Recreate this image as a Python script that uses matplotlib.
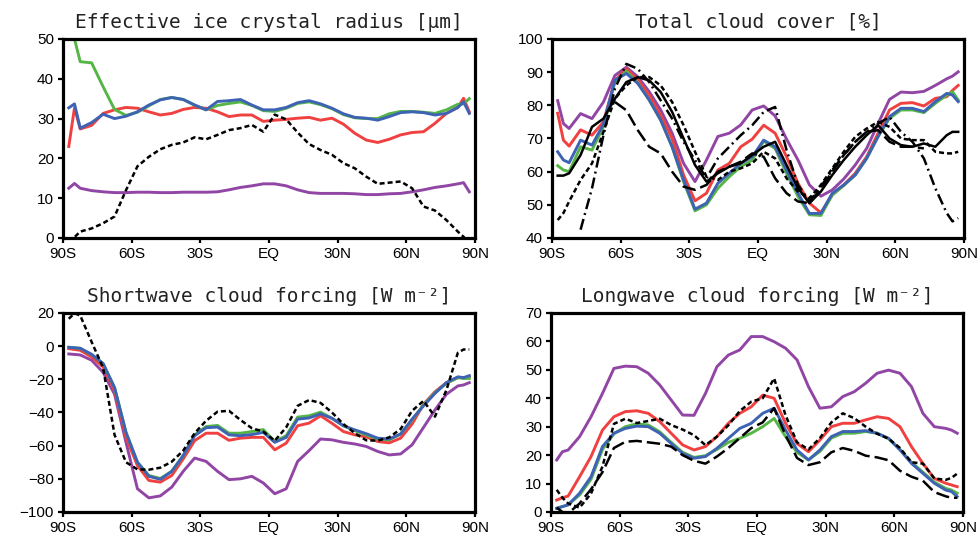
import numpy as np
import matplotlib
matplotlib.use("Agg")
import matplotlib.pyplot as plt

nan = np.nan

# latitudes of the zonal means
lat = [-87.5, -85, -82.5, -77.5, -72.5, -67.5, -62.5, -57.5, -52.5, -47.5, -42.5, -37.5,
       -32.5, -27.5, -22.5, -17.5, -12.5, -7.5, -2.5, 2.5, 7.5, 12.5, 17.5, 22.5, 27.5,
       32.5, 37.5, 42.5, 47.5, 52.5, 57.5, 62.5, 67.5, 72.5, 77.5, 82.5, 85, 87.5]

xticks = [-90, -60, -30, 0, 30, 60, 90]
xlabels = ["90S", "60S", "30S", "EQ", "30N", "60N", "90N"]

# effective ice crystal radius
rei_green = [56, 50, 44.3, 44, 38, 32.3, 30.8, 31.6, 33.2, 34.8, 35.3, 34.8, 33.4, 32.2, 33.3, 33.8, 34.2, 33.3, 32.0,
             31.8, 32.6, 33.8, 34.2, 33.5, 32.5, 31.0, 30.2, 30.0, 30.0, 31.2, 31.8, 31.8, 31.6, 31.3, 32.2, 33.6, 33.7, 35.0]
rei_blue = [32.7, 33.7, 27.6, 29.0, 31.1, 30.0, 30.6, 31.7, 33.4, 34.7, 35.3, 34.8, 33.4, 32.2, 34.3, 34.5, 34.8, 33.4, 32.2,
            32.2, 32.8, 34.0, 34.5, 33.7, 32.6, 31.2, 30.3, 30.1, 29.6, 30.5, 31.5, 31.7, 31.5, 30.9, 31.3, 32.8, 34.2, 31.3]
rei_red = [23.0, 32.7, 27.4, 28.3, 31.3, 32.2, 32.8, 32.6, 31.7, 30.9, 31.3, 32.3, 32.8, 32.6, 31.7, 30.5, 30.9, 30.9, 29.3,
           29.6, 29.8, 30.1, 30.3, 29.6, 30.1, 28.6, 26.3, 24.6, 24.0, 24.8, 25.9, 26.5, 26.7, 28.8, 31.3, 32.8, 35.1, 31.7]
rei_purple = [12.5, 13.7, 12.5, 11.9, 11.6, 11.4, 11.4, 11.5, 11.5, 11.4, 11.4, 11.5, 11.5, 11.5, 11.6, 12.1, 12.7, 13.1, 13.6,
              13.6, 13.1, 12.1, 11.4, 11.2, 11.2, 11.2, 11.1, 10.9, 10.9, 11.1, 11.2, 11.6, 12.1, 12.7, 13.1, 13.6, 13.9, 11.6]
rei_obs = [-1.0, 0.2, 1.6, 2.4, 3.7, 5.4, 12.0, 18.0, 20.4, 22.3, 23.4, 24.0, 25.3, 24.8, 25.9, 27.1, 27.6, 28.4, 26.7,
           31.0, 29.8, 26.5, 23.6, 22.1, 20.9, 18.8, 17.5, 15.4, 13.6, 13.9, 14.2, 12.5, 7.9, 6.9, 4.5, 1.6, 0.3, -1.5]

# total cloud cover
tcc_purple = [81.4, 74.5, 73.0, 77.5, 76.0, 81.0, 89.0, 91.5, 88.6, 84.1, 78.6, 71.6, 62.5, 57.0, 63.5, 70.6, 71.6, 74.1, 78.6,
              79.8, 76.8, 69.8, 63.5, 56.0, 52.6, 54.5, 57.8, 62.0, 67.0, 74.5, 81.8, 84.0, 83.8, 84.2, 86.0, 88.0, 88.8, 90.1]
tcc_red = [77.6, 69.5, 67.7, 72.6, 71.0, 75.0, 87.5, 91.0, 87.8, 83.0, 77.0, 70.0, 59.0, 51.2, 53.5, 60.5, 62.5, 67.5, 69.8,
           74.0, 71.6, 64.5, 56.5, 50.5, 47.6, 53.0, 56.0, 59.5, 64.5, 71.6, 78.6, 80.6, 80.8, 79.8, 82.1, 82.6, 84.5, 86.0]
tcc_blue = [66.0, 63.5, 62.7, 69.5, 68.0, 74.3, 87.6, 89.6, 86.6, 81.6, 75.6, 67.5, 57.5, 48.7, 50.5, 56.5, 59.5, 62.5, 64.5,
            69.5, 67.5, 60.5, 53.5, 47.4, 47.4, 53.5, 56.0, 59.0, 64.0, 70.6, 76.6, 79.1, 79.1, 78.1, 81.1, 83.6, 83.1, 81.1]
tcc_green = [61.8, 60.5, 60.0, 67.5, 66.5, 73.6, 87.0, 90.3, 86.8, 81.6, 75.5, 67.5, 57.0, 48.2, 50.0, 55.0, 58.5, 61.5, 63.5,
             69.2, 67.0, 59.5, 52.5, 47.0, 46.8, 53.0, 55.8, 59.0, 64.0, 70.6, 76.1, 78.6, 78.6, 77.8, 80.6, 83.1, 84.1, 81.6]
tcc_obs1 = [58.8, 58.8, 59.5, 65.0, 73.5, 76.0, 82.0, 87.0, 88.5, 87.5, 84.0, 78.0, 70.0, 62.0, 57.0, 59.5, 61.5, 62.5, 65.0,
            67.5, 69.0, 62.0, 55.0, 50.5, 54.0, 59.0, 63.5, 67.5, 71.0, 74.0, 70.0, 68.0, 67.5, 68.5, 67.5, 71.0, 72.0, 72.0]
tcc_obs2 = [45.4, 47.5, 51.0, 57.5, 62.5, 72.0, 82.0, 86.0, 88.5, 88.5, 86.0, 81.0, 74.0, 66.0, 58.5, 57.5, 60.0, 61.0, 62.5,
            66.0, 64.0, 58.0, 54.0, 52.0, 56.0, 61.0, 66.0, 70.5, 73.0, 75.0, 73.5, 70.0, 69.5, 69.5, 66.0, 65.5, 65.5, 66.0]
tcc_obs3 = [nan, nan, nan, 42.5, 55.0, 71.0, 85.0, 92.5, 91.0, 87.0, 81.5, 76.0, 69.0, 63.5, 58.0, 64.0, 67.5, 71.0, 74.0,
            78.0, 79.5, 66.5, 56.0, 51.0, 55.5, 60.5, 65.0, 69.0, 72.0, 74.5, 76.5, 72.0, 69.0, 64.0, 55.0, 47.5, 45.0, 46.0]
tcc_obs4 = [nan, nan, nan, nan, nan, nan, 81.0, 78.5, 72.5, 67.5, 65.5, 60.0, 55.5, 54.5, 56.0, 60.0, 61.5, 63.0, 65.5,
            64.5, 58.0, 53.5, 51.0, 50.5, 55.0, 60.0, 65.0, 69.0, 72.0, 72.5, 69.0, 67.5, 67.5, 67.0, nan, nan, nan, nan]

# shortwave cloud forcing
swcf_blue = [-0.7, -1.0, -1.3, -5.0, -10.5, -25.0, -52.0, -70.0, -78.5, -80.3, -75.5, -66.0, -54.0, -49.2, -48.8, -53.5, -54.0, -53.3, -52.0,
             -58.0, -55.0, -44.0, -43.3, -40.8, -43.5, -48.0, -50.5, -52.8, -55.5, -56.0, -53.0, -44.0, -36.0, -28.5, -22.0, -18.5, -19.0, -17.8]
swcf_green = [-0.7, -1.0, -1.3, -5.0, -10.5, -25.0, -52.0, -70.0, -78.0, -79.8, -75.5, -66.0, -53.5, -48.5, -47.8, -52.5, -52.5, -51.5, -50.3,
              -57.5, -54.0, -42.8, -42.0, -39.8, -43.5, -48.0, -51.0, -53.5, -56.0, -56.5, -53.0, -44.5, -35.5, -28.0, -22.5, -19.0, -19.5, -19.5]
swcf_red = [-1.5, -2.0, -2.5, -6.5, -12.5, -27.0, -55.0, -72.0, -81.0, -82.0, -78.0, -68.0, -57.0, -52.5, -52.5, -56.8, -55.5, -55.0, -55.0,
            -62.5, -58.5, -48.0, -46.4, -42.0, -46.5, -51.5, -53.5, -54.7, -57.5, -58.3, -55.5, -47.0, -35.0, -27.5, -22.0, -19.0, -19.0, -18.4]
swcf_purple = [-4.7, -5.0, -5.3, -8.5, -15.8, -29.0, -58.0, -86.0, -91.5, -90.3, -85.0, -75.5, -67.5, -69.5, -75.5, -80.5, -80.0, -78.5, -82.5,
               -89.0, -86.0, -69.5, -63.0, -56.0, -56.5, -58.0, -59.0, -60.5, -63.5, -65.6, -65.0, -59.5, -49.0, -38.5, -29.0, -24.0, -23.4, -22.0]
swcf_obs = [16.5, 19.8, 18.5, 2.5, -13.0, -53.5, -70.0, -74.3, -74.5, -73.3, -69.7, -63.0, -52.5, -45.0, -39.5, -39.0, -44.5, -49.5, -51.5,
            -57.0, -49.0, -36.0, -32.5, -34.2, -40.0, -47.0, -52.5, -56.8, -57.0, -55.0, -50.0, -39.0, -33.0, -42.5, -26.5, -4.0, -2.0, -2.0]

# longwave cloud forcing
lwcf_purple = [18.3, 21.2, 21.8, 26.5, 33.5, 41.7, 50.5, 51.3, 51.1, 48.8, 44.7, 39.4, 34.1, 34.0, 41.7, 51.1, 55.2, 57.0, 61.7,
               61.7, 59.9, 57.6, 53.5, 44.1, 36.5, 37.0, 40.6, 42.3, 45.3, 48.8, 49.9, 48.8, 44.1, 34.7, 30.0, 29.4, 28.8, 27.7]
lwcf_red = [4.2, 5.0, 5.6, 12.4, 19.5, 28.8, 33.5, 35.3, 35.6, 34.7, 31.8, 27.7, 23.6, 21.8, 23.0, 26.5, 31.2, 34.7, 37.0,
            41.1, 40.0, 31.2, 24.1, 21.2, 25.3, 30.0, 31.2, 31.2, 32.4, 33.5, 32.9, 30.0, 23.0, 17.1, 11.8, 10.1, 9.5, 8.9]
lwcf_blue = [1.3, 1.9, 2.5, 6.6, 12.4, 23.0, 27.7, 29.4, 30.2, 30.0, 27.7, 24.1, 20.6, 18.9, 19.5, 22.4, 25.9, 29.4, 31.2,
             34.7, 36.5, 28.8, 21.8, 18.3, 21.8, 26.5, 28.3, 28.3, 28.6, 27.7, 25.9, 21.8, 17.1, 13.6, 10.1, 7.7, 7.2, 5.4]
lwcf_green = [1.3, 1.9, 2.5, 6.0, 11.5, 22.0, 27.5, 30.0, 31.0, 30.6, 28.2, 24.5, 21.0, 19.2, 19.8, 22.0, 24.5, 25.9, 27.7,
              30.0, 32.9, 26.5, 21.0, 18.3, 21.3, 26.0, 27.7, 27.7, 28.3, 27.7, 25.8, 22.0, 17.5, 14.0, 10.5, 8.3, 7.7, 6.6]
lwcf_obs1 = [7.8, 5.0, 3.0, 1.5, 6.5, 16.0, 31.0, 32.8, 31.3, 32.0, 32.8, 30.6, 29.0, 27.0, 23.5, 26.5, 30.5, 35.5, 38.8,
             40.0, 47.0, 34.0, 24.5, 22.0, 26.0, 31.5, 34.7, 33.0, 30.0, 27.5, 25.8, 22.5, 17.5, 17.0, 11.8, 11.3, 12.0, 13.5]
lwcf_obs2 = [1.5, 0.0, -0.5, 3.0, 8.0, 14.0, 22.5, 24.7, 25.0, 24.5, 24.0, 23.0, 20.0, 18.0, 17.0, 19.5, 22.5, 26.0, 29.5,
             31.5, 36.5, 27.0, 19.0, 16.5, 17.5, 21.0, 22.5, 21.5, 19.8, 19.2, 18.2, 14.5, 12.4, 11.0, 7.0, 5.5, 5.0, 5.0]

c_green = "#55b646"
c_blue = "#3e63b4"
c_red = "#f04040"
c_purple = "#9145a4"

plt.rcParams["lines.scale_dashes"] = False
short_dash = (0, (3.6, 2.2))
long_dash = (0, (9.6, 3.6))
dash_dot = (0, (8.0, 3.0, 1.4, 3.0))

fig = plt.figure(figsize=(9.79, 5.4), dpi=100)


def make_panel(pos, title, ylim, yticks):
    ax = fig.add_axes(pos)
    ax.set_xlim(-90, 90)
    ax.set_ylim(*ylim)
    ax.set_xticks(xticks)
    ax.set_xticklabels(xlabels)
    ax.set_yticks(yticks)
    for s in ax.spines.values():
        s.set_linewidth(2.3)
    ax.tick_params(direction="out", length=3.5, width=1.6, pad=3, labelsize=11)
    for lab in ax.get_xticklabels() + ax.get_yticklabels():
        lab.set_fontfamily("Liberation Sans")
    ax.set_title(title, fontfamily="DejaVu Sans Mono", fontsize=14, pad=8, color="#222222")
    return ax


w, h = 0.4208, 0.3685
ax1 = make_panel([0.0644, 0.5593, w, h], "Effective ice crystal radius [\u03bcm]", (0, 50), range(0, 51, 10))
ax2 = make_panel([0.5638, 0.5593, w, h], "Total cloud cover [%]", (40, 100), range(40, 101, 10))
ax3 = make_panel([0.0644, 0.0519, w, h], "Shortwave cloud forcing [W m\u207b\u00b2]", (-100, 20), range(-100, 21, 20))
ax4 = make_panel([0.5628, 0.0519, w, h], "Longwave cloud forcing [W m\u207b\u00b2]", (0, 70), range(0, 71, 10))

lw = 2.1
blw = 1.8

ax1.plot(lat, rei_purple, color=c_purple, lw=lw)
ax1.plot(lat, rei_red, color=c_red, lw=lw)
ax1.plot(lat, rei_green, color=c_green, lw=lw)
ax1.plot(lat, rei_blue, color=c_blue, lw=lw)
ax1.plot(lat, rei_obs, color="black", lw=blw, ls=short_dash)

ax2.plot(lat, tcc_purple, color=c_purple, lw=lw)
ax2.plot(lat, tcc_red, color=c_red, lw=lw)
ax2.plot(lat, tcc_green, color=c_green, lw=lw)
ax2.plot(lat, tcc_blue, color=c_blue, lw=lw)
ax2.plot(lat, tcc_obs1, color="black", lw=blw)
ax2.plot(lat, tcc_obs2, color="black", lw=blw, ls=short_dash)
ax2.plot(lat, tcc_obs3, color="black", lw=blw, ls=dash_dot)
ax2.plot(lat, tcc_obs4, color="black", lw=blw, ls=long_dash)

ax3.plot(lat, swcf_purple, color=c_purple, lw=lw)
ax3.plot(lat, swcf_red, color=c_red, lw=lw)
ax3.plot(lat, swcf_green, color=c_green, lw=lw)
ax3.plot(lat, swcf_blue, color=c_blue, lw=lw)
ax3.plot(lat, swcf_obs, color="black", lw=blw, ls=short_dash)

ax4.plot(lat, lwcf_purple, color=c_purple, lw=lw)
ax4.plot(lat, lwcf_red, color=c_red, lw=lw)
ax4.plot(lat, lwcf_green, color=c_green, lw=lw)
ax4.plot(lat, lwcf_blue, color=c_blue, lw=lw)
ax4.plot(lat, lwcf_obs1, color="black", lw=blw, ls=short_dash)
ax4.plot(lat, lwcf_obs2, color="black", lw=blw, ls=long_dash)

fig.savefig("out.png", dpi=100)
